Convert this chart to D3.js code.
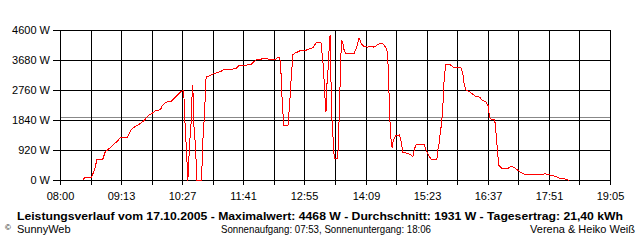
<!DOCTYPE html>
<html>
<head>
<meta charset="utf-8">
<script src="https://cdn.jsdelivr.net/npm/d3@7"></script>
<style>
  body { margin: 0; background: #fff; }
  svg { display: block; font-family: "Liberation Sans", Arial, sans-serif; }
  .axis text { font-size: 11px; fill: #000; }
  .axis line { stroke: #000; shape-rendering: crispEdges; }
  .axis .domain { display: none; }
</style>
</head>
<body>
<script>
// Leistungsverlauf 17.10.2005, values
var times = ["08:27","08:28","08:29","08:37","08:40","08:42","08:44","08:51","08:54","08:56",
  "09:00","09:04","09:09","09:12","09:13","09:21","09:23","09:25","09:29","09:33",
  "09:37","09:41","09:44","09:47","09:51","09:55","10:01","10:03","10:07","10:14",
  "10:17","10:21","10:25","10:29","10:30","10:32","10:34","10:36","10:38","10:39",
  "10:40","10:41","10:43","10:45","10:50","10:51","10:52","10:54","10:56","10:57",
  "11:01","11:05","11:10","11:14","11:17","11:32","11:36","11:50","11:54","11:57",
  "12:04","12:10","12:14","12:20","12:22","12:25","12:26","12:27","12:28","12:30",
  "12:35","12:36","12:37","12:39","12:41","12:44","12:48","12:50","12:56","12:58",
  "13:02","13:06","13:09","13:15","13:16","13:18","13:19","13:20","13:21","13:22",
  "13:23","13:24","13:25","13:26","13:27","13:28","13:30","13:31","13:35","13:36",
  "13:37","13:38","13:39","13:40","13:42","13:43","13:45","13:55","13:58","14:01",
  "14:04","14:07","14:11","14:15","14:19","14:25","14:30","14:33","14:35","14:36",
  "14:37","14:38","14:39","14:41","14:42","14:45","14:50","14:52","14:54","14:59",
  "15:03","15:06","15:08","15:10","15:20","15:22","15:24","15:26","15:29","15:35",
  "15:36","15:38","15:39","15:41","15:43","15:44","15:46","15:51","15:55","16:04",
  "16:07","16:08","16:10","16:14","16:18","16:22","16:27","16:30","16:34","16:37",
  "16:38","16:39","16:41","16:45","16:46","16:47","16:49","16:50","16:54","17:00",
  "17:05","17:08","17:12","17:16","17:22","17:42","17:46","17:50","17:54","17:58",
  "18:01","18:05","18:09","18:13","18:15"];

var watts = [0,50,85,85,255,410,645,645,870,920,
  1005,1105,1205,1310,1330,1330,1430,1535,1635,1695,
  1755,1840,1925,2005,2065,2145,2170,2300,2400,2430,
  2505,2605,2710,2775,2015,1075,0,1075,1810,2555,
  2915,1790,1125,0,0,360,1175,1995,3150,3180,
  3220,3270,3320,3345,3395,3425,3525,3550,3650,3700,
  3730,3730,3700,3700,3765,3780,3550,3120,2455,1685,
  1685,2015,2320,3170,3855,3915,3955,3985,3985,4010,
  4040,4090,4225,4225,3955,3445,2915,2425,2115,2900,
  3220,3630,4160,4468,3120,1995,1125,665,665,1125,
  1995,2915,3835,4295,4140,3985,3885,3885,4090,4365,
  4190,4110,4090,4120,4090,4190,4190,4090,3955,3580,
  2810,2095,1380,990,1175,1380,1400,1175,870,835,
  790,735,970,1095,1095,920,820,735,635,635,
  920,1175,1430,1790,2555,3220,3550,3550,3475,3475,
  3220,2965,2780,2730,2660,2575,2555,2455,2425,2300,
  2095,1940,1860,1860,1635,1330,715,460,360,360,
  430,410,330,255,185,185,205,175,155,130,
  100,50,50,20,0];

var yTicks = [0, 920, 1840, 2760, 3680, 4600];
var xTickLabels = ["08:00","09:13","10:27","11:41","12:55","14:09","15:23","16:37","17:51","19:05"];
var average = 1931;

var title = "Leistungsverlauf vom 17.10.2005 - Maximalwert: 4468 W - Durchschnitt: 1931 W - Tagesertrag: 21,40 kWh";
var sunText = "Sonnenaufgang: 07:53, Sonnenuntergang: 18:06";
var leftText = "SunnyWeb";
var rightText = "Verena & Heiko Weiß";

function toMin(s) { var p = s.split(":"); return +p[0] * 60 + +p[1]; }

var margin = {top: 30, right: 30, bottom: 60, left: 60},
    width = 640 - margin.left - margin.right,
    height = 240 - margin.top - margin.bottom;

var svg = d3.select("body").append("svg")
    .attr("width", 640)
    .attr("height", 240);

var g = svg.append("g")
    .attr("transform", "translate(" + margin.left + "," + margin.top + ")");

var tStart = toMin(xTickLabels[0]), tEnd = toMin(xTickLabels[xTickLabels.length - 1]);

var x = d3.scaleLinear().domain([tStart, tEnd]).range([0, width]);
var y = d3.scaleLinear().domain([0, 4600]).range([height, 0]);

// average line (grey)
g.append("line")
    .attr("x1", 0).attr("x2", width)
    .attr("y1", Math.round(y(average)) + 0.5).attr("y2", Math.round(y(average)) + 0.5)
    .attr("stroke", "#888")
    .attr("shape-rendering", "crispEdges");

// vertical grid every half label step
var xTickVals = d3.range(0, 19).map(function(i) { return tStart + i * (tEnd - tStart) / 18; });

var xAxis = g.append("g")
    .attr("class", "axis")
    .attr("transform", "translate(0.5," + height + ")")
    .call(d3.axisBottom(x)
      .tickValues(xTickVals)
      .tickSizeInner(-height)
      .tickSizeOuter(0)
      .tickPadding(12)
      .tickFormat(function(d, i) { return i % 2 ? "" : xTickLabels[i / 2]; }));
xAxis.selectAll("line").attr("y1", 5);
xAxis.selectAll(".tick").attr("transform", function(d) { return "translate(" + Math.round(x(d)) + ",0)"; });

var yAxis = g.append("g")
    .attr("class", "axis")
    .attr("transform", "translate(0,0.5)")
    .call(d3.axisLeft(y)
      .tickValues(yTicks)
      .tickSizeInner(-width - 1)
      .tickSizeOuter(0)
      .tickPadding(10)
      .tickFormat(function(d) { return d + " W"; }));
yAxis.selectAll("line").attr("x1", -7);
yAxis.selectAll(".tick").attr("transform", function(d) { return "translate(0," + Math.round(y(d)) + ")"; });

// power curve
var line = d3.line()
    .x(function(d, i) { return x(toMin(times[i])) + 0.5; })
    .y(function(d) { return y(d) + 0.5; });

g.append("path")
    .datum(watts)
    .attr("fill", "none")
    .attr("stroke", "#ff0000")
    .attr("stroke-width", 1)
    .attr("shape-rendering", "crispEdges")
    .attr("d", line);

// texts
svg.append("text")
    .attr("x", 17).attr("y", 220)
    .attr("textLength", 606)
    .attr("lengthAdjust", "spacingAndGlyphs")
    .style("font-size", "11px").style("font-weight", "bold")
    .text(title);

svg.append("text")
    .attr("x", 5).attr("y", 230)
    .style("font-size", "8px")
    .text("©");

svg.append("text")
    .attr("x", 17).attr("y", 233)
    .style("font-size", "11px")
    .text(leftText);

svg.append("text")
    .attr("x", 221).attr("y", 233)
    .attr("textLength", 210)
    .attr("lengthAdjust", "spacingAndGlyphs")
    .style("font-size", "11px")
    .text(sunText);

svg.append("text")
    .attr("x", 635).attr("y", 233)
    .attr("text-anchor", "end")
    .style("font-size", "11px")
    .text(rightText);
</script>
</body>
</html>
